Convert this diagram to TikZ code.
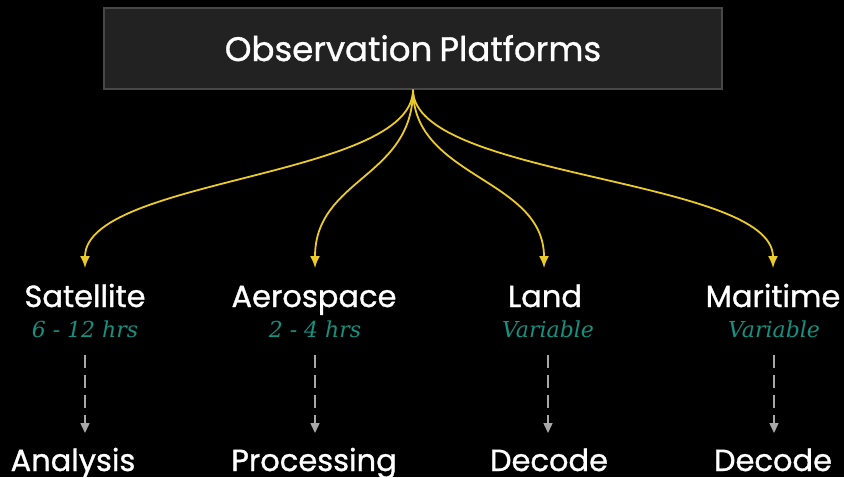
\documentclass[tikz,border=0pt]{standalone}
\usepackage{fontspec}
\usepackage{xcolor}
\usepackage{tikz}
\usetikzlibrary{arrows.meta, positioning, calc}
\newfontfamily\labelfont{Poppins}[FakeBold=1.0]
\newfontfamily\timefont{DejaVu Serif}
\definecolor{flowyellow}{HTML}{EBCB2A}
\definecolor{timeteal}{HTML}{16907F}
\definecolor{boxfill}{HTML}{222222}
\definecolor{boxline}{HTML}{474747}
\definecolor{dashgray}{HTML}{A8A8A8}

\begin{document}
\begin{tikzpicture}[
    x=1pt, y=-1pt,
    % Styles for the platform tree
    topbox/.style={draw=boxline, line width=1.5pt, fill=boxfill, minimum width=618pt, minimum height=81pt, inner sep=0pt},
    platform/.style={text=white, font=\labelfont\fontsize{30.5}{34}\selectfont, anchor=base, inner sep=0pt},
    delay/.style={text=timeteal, font=\timefont\itshape\fontsize{22}{26}\selectfont, anchor=base, inner sep=0pt},
    outcome/.style={text=white, font=\labelfont\fontsize{30.5}{34}\selectfont, anchor=base, inner sep=0pt},
    flow/.style={draw=flowyellow, line width=1.8pt, -{Latex[length=12pt, width=10pt]}},
    handoff/.style={draw=dashgray, line width=1.5pt, dash pattern=on 13pt off 7pt, -{Triangle[length=10pt, width=9pt]}}
]

    % 0. Canvas
    \fill[black] (0,0) rectangle (844,477);
    \useasboundingbox (0,0) rectangle (844,477);

    % 1. The root box
    \node[topbox] (platforms) at (413,48.5) {};
    \node[text=white, font=\labelfont\fontsize{34}{38}\selectfont, anchor=base, inner sep=0pt] (title) at (413,61) {Observation\hspace{-2pt} Platforms};

    % 2. The four platforms and their delays
    \node[platform] (sat)  at (85,307)  {Satellite};
    \node[platform] (aero) at (314,307) {Aerospace};
    \node[platform] (land) at (545,307) {Land};
    \node[platform] (mari) at (773,307) {Maritime};

    \node[delay] (satT)  at (85,337)  {6 - 12 hrs};
    \node[delay] (aeroT) at (315,337) {2 - 4 hrs};
    \node[delay] (landT) at (548,337) {Variable};
    \node[delay] (mariT) at (774,337) {Variable};

    % 3. Where each one goes next
    \node[outcome] (satO)  at (73,471)  {Analysis};
    \node[outcome] (aeroO) at (314,471) {Processing};
    \node[outcome] (landO) at (549,471) {Decode};
    \node[outcome] (mariO) at (773,471) {Decode};

    % 4. Curved feeds out of the root
    \coordinate (satIn)  at (85,268);
    \coordinate (aeroIn) at (315,268);
    \coordinate (landIn) at (544,268);
    \coordinate (mariIn) at (773,268);

    \draw[flow] (platforms.south) .. controls (413,178) and (85,178) .. (satIn);
    \draw[flow] (platforms.south) .. controls (413,178) and (315,178) .. (aeroIn);
    \draw[flow] (platforms.south) .. controls (413,178) and (544,178) .. (landIn);
    \draw[flow] (platforms.south) .. controls (413,178) and (773,178) .. (mariIn);

    % 5. Dashed hand-offs
    \foreach \col/\x in {sat/85, aero/315, land/548, mari/774} {
        \coordinate (\col Top) at (\x,355);
        \coordinate (\col Bot) at (\x,433);
        \draw[handoff] (\col Top) -- (\col Bot);
    }

\end{tikzpicture}
\end{document}
